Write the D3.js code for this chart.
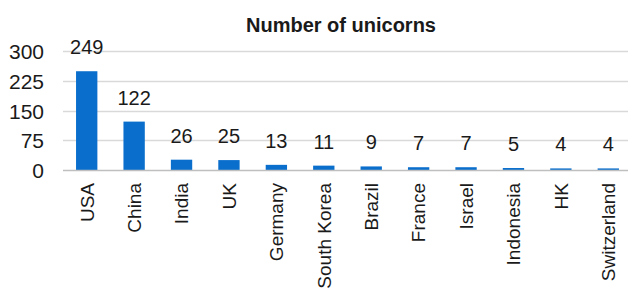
<!DOCTYPE html>
<html>
<head>
<meta charset="utf-8">
<script src="https://cdn.jsdelivr.net/npm/d3@7"></script>
<style>
  body { margin: 0; background: #fff; }
  svg text { font-family: "Liberation Sans", Arial, sans-serif; fill: #1a1a1a; }
</style>
</head>
<body>
<div id="container"></div>
<script>
/* Data */
var countries = ["USA", "China", "India", "UK", "Germany", "South Korea", "Brazil", "France", "Israel", "Indonesia", "HK", "Switzerland"];
var unicorns = [249, 122, 26, 25, 13, 11, 9, 7, 7, 5, 4, 4];
var yTicks = [0, 75, 150, 225, 300];

var w = 628, h = 289;
var margin = {top: 51, right: -4, bottom: 119, left: 63};
var innerW = w - margin.left - margin.right,
	innerH = h - margin.top - margin.bottom;

var svg = d3.select("#container").append("svg")
	.attr("width", w)
	.attr("height", h);

/* Title */
svg.append("text")
	.attr("x", 341)
	.attr("y", 32)
	.attr("text-anchor", "middle")
	.style("font-size", "20px")
	.style("font-weight", "bold")
	.text("Number of unicorns");

var g = svg.append("g")
	.attr("transform", "translate(" + margin.left + "," + margin.top + ")");

/* Scales */
var xScale = d3.scaleBand()
		.domain(countries)
		.range([0, innerW])
		.paddingInner(0.55)
		.paddingOuter(0.275),
	yScale = d3.scaleLinear()
		.domain([0, 300])
		.range([innerH, 0]);

/* Grid lines */
g.selectAll(".grid")
	.data(yTicks.filter(d => d > 0))
	.enter().append("line")
	.classed("grid", true)
	.attr("x1", 0)
	.attr("x2", innerW)
	.attr("y1", d => Math.round(yScale(d)) + 0.5)
	.attr("y2", d => Math.round(yScale(d)) + 0.5)
	.attr("stroke", "#d9d9d9")
	.attr("stroke-width", 1.5);

/* Y-Axis */
var yAxis = d3.axisLeft(yScale).tickValues(yTicks).tickSize(0).tickPadding(19);
g.append("g")
	.classed("yaxis", true)
	.call(yAxis)
	.call(a => a.select(".domain").remove())
	.selectAll("text")
		.style("font-size", "21px")
		.attr("dy", "0.36em");

/* Bars */
g.selectAll(".bar")
	.data(unicorns)
	.enter().append("rect")
	.classed("bar", true)
	.attr("x", (d, i) => xScale(countries[i]))
	.attr("width", xScale.bandwidth())
	.attr("y", d => yScale(d))
	.attr("height", d => innerH - yScale(d))
	.attr("fill", "#0a6fcc");

/* Zero line */
g.append("line")
	.attr("x1", 0)
	.attr("x2", innerW)
	.attr("y1", innerH + 0.5)
	.attr("y2", innerH + 0.5)
	.attr("stroke", "#bfbfbf")
	.attr("stroke-width", 1.5);

/* Value labels */
g.selectAll(".labels")
	.data(unicorns)
	.enter().append("text")
	.classed("labels", true)
	.attr("x", (d, i) => xScale(countries[i]) + xScale.bandwidth() / 2)
	.attr("y", d => yScale(d) - 17)
	.attr("text-anchor", "middle")
	.style("font-size", "20px")
	.text(d => d);

/* X-Axis */
var xAxis = d3.axisBottom(xScale).tickSize(0).tickPadding(0);
g.append("g")
	.classed("xaxis", true)
	.attr("transform", "translate(0," + innerH + ")")
	.call(xAxis)
	.call(a => a.select(".domain").remove())
	.selectAll("text")
		.style("font-size", "19px")
		.style("text-anchor", "end")
		.attr("transform", "rotate(-90)")
		.attr("x", -13)
		.attr("y", 0)
		.attr("dy", "0.36em");
</script>
</body>
</html>
